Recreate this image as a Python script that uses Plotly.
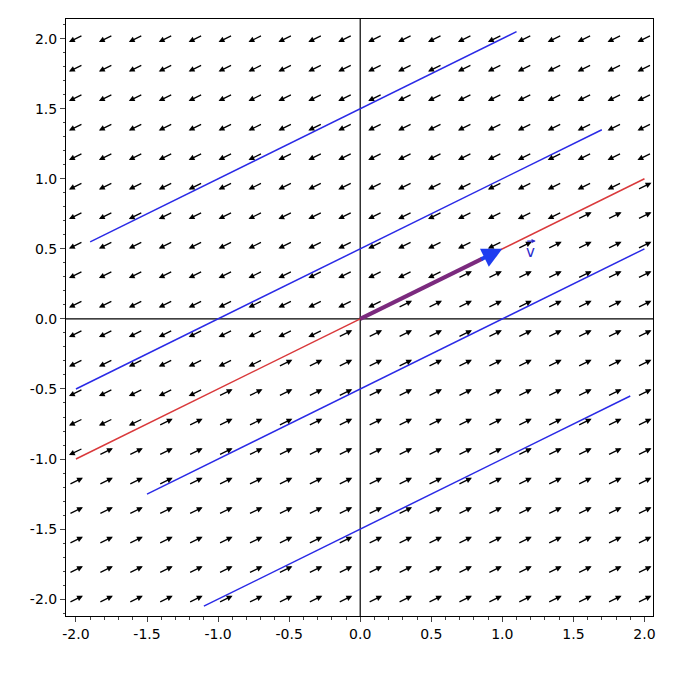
import numpy as np
import plotly.graph_objects as go

# grid for the direction field
grid = np.linspace(-2, 2, 20)
direction = (2, 1)  # field is parallel to v

# solution lines y = x/2 + c with their drawn extents
offsets = [1.5, 0.5, -0.5, -1.5]
x_start = [-1.9, -2.0, -1.5, -1.1]
x_end = [1.1, 1.7, 2.0, 1.9]

v = (1.0, 0.5)

fig = go.Figure()

# field arrows
dx, dy = np.array(direction) / np.hypot(*direction)
L = 0.055
anns = []
for gx in grid:
    for gy in grid:
        s = np.sign(gx - 2 * gy) or 1
        ux, uy = s * dx * L, s * dy * L
        anns.append(dict(x=gx + ux, y=gy + uy, ax=gx - ux, ay=gy - uy,
                         xref="x", yref="y", axref="x", ayref="y",
                         showarrow=True, arrowhead=2, arrowsize=0.9,
                         arrowwidth=1.3, arrowcolor="black", text=""))

# axes through origin
fig.add_trace(go.Scatter(x=[-2.2, 2.2], y=[0, 0], mode="lines",
                         line=dict(color="black", width=1.2), hoverinfo="skip"))
fig.add_trace(go.Scatter(x=[0, 0], y=[-2.2, 2.2], mode="lines",
                         line=dict(color="black", width=1.2), hoverinfo="skip"))

for c, a, b in zip(offsets, x_start, x_end):
    fig.add_trace(go.Scatter(x=[a, b], y=[a / 2 + c, b / 2 + c], mode="lines",
                             line=dict(color="#2a2ae6", width=1.5)))

fig.add_trace(go.Scatter(x=[-2, 2], y=[-1, 1], mode="lines",
                         line=dict(color="#d9393b", width=1.5)))

# vector v
fig.add_trace(go.Scatter(x=[0, v[0] * 0.86], y=[0, v[1] * 0.86], mode="lines",
                         line=dict(color="#7b2a7e", width=4)))
anns.append(dict(x=v[0], y=v[1], ax=v[0] * 0.84, ay=v[1] * 0.84,
                 xref="x", yref="y", axref="x", ayref="y",
                 showarrow=True, arrowhead=2, arrowsize=1.0, arrowwidth=4,
                 arrowcolor="#1f3df0", text=""))
anns.append(dict(x=1.2, y=0.48, xref="x", yref="y", text="v", showarrow=False,
                 font=dict(color="#2a2acc", size=15, family="DejaVu Sans")))
# small arrow over the v
anns.append(dict(x=1.235, y=0.555, ax=1.165, ay=0.555,
                 xref="x", yref="y", axref="x", ayref="y",
                 showarrow=True, arrowhead=2, arrowsize=0.7, arrowwidth=1.2,
                 arrowcolor="#2a2acc", text=""))

ticks = [-2.0, -1.5, -1.0, -0.5, 0.0, 0.5, 1.0, 1.5, 2.0]
ax_style = dict(showgrid=False, zeroline=False, showline=True, mirror=True,
                linecolor="black", linewidth=1, ticks="outside", ticklen=5,
                tickvals=ticks, ticktext=[f"{t:.1f}" for t in ticks],
                minor=dict(ticks="outside", ticklen=2.5, dtick=0.1),
                tickfont=dict(family="DejaVu Sans", size=14, color="black"))

fig.update_layout(
    width=676, height=676, showlegend=False,
    plot_bgcolor="white", paper_bgcolor="white",
    margin=dict(l=58, r=31, t=11, b=68),
    xaxis=dict(range=[-2.07, 2.06], **ax_style),
    yaxis=dict(range=[-2.12, 2.14], **ax_style),
    annotations=anns,
)

fig.write_html("out.html")
